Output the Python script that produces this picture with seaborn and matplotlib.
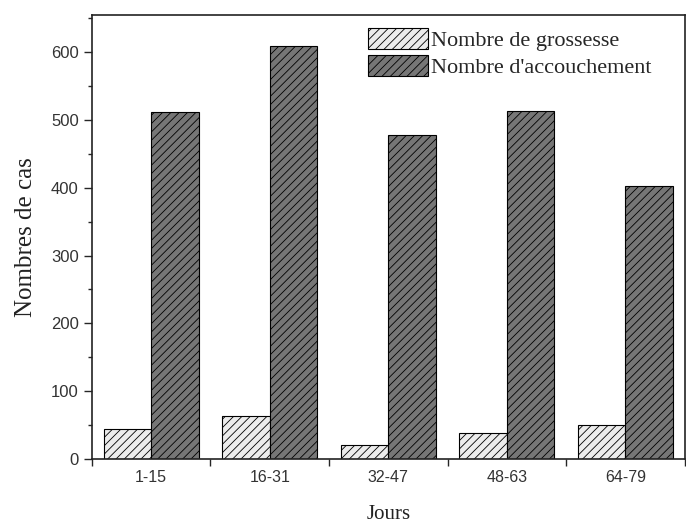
import pandas as pd
import matplotlib
matplotlib.use("Agg")
from matplotlib import pyplot as plt
from matplotlib.patches import Patch
from matplotlib.ticker import MultipleLocator, FixedLocator
import seaborn as sns

jours = ["1-15", "16-31", "32-47", "48-63", "64-79"]
grossesse = [44, 63, 21, 38, 50]
accouchement = [512, 609, 478, 513, 403]
series = ["Nombre de grossesse", "Nombre d'accouchement"]

df = pd.DataFrame({
    "Jours": jours * 2,
    "cas": grossesse + accouchement,
    "serie": [series[0]] * len(jours) + [series[1]] * len(jours),
})

sns.set_style("ticks")
plt.rcParams["hatch.linewidth"] = 0.6
colors = ["#ececec", "#767676"]

fig = plt.figure(figsize=(6.86, 5.27), dpi=100)
ax = fig.add_axes([0.134, 0.129, 0.864, 0.843])
sns.barplot(data=df, x="Jours", y="cas", hue="serie", palette=colors,
            width=0.8, edgecolor="black", linewidth=0.8, ax=ax, legend=False)
for cont in ax.containers:
    for bar in cont:
        bar.set_hatch("////")

ax.set_xlim(-0.5, 4.5)
ax.set_ylim(0, 655)
ax.yaxis.set_major_locator(MultipleLocator(100))
ax.yaxis.set_minor_locator(MultipleLocator(50))
ax.xaxis.set_minor_locator(FixedLocator([-0.5, 0.5, 1.5, 2.5, 3.5, 4.5]))
ax.tick_params(axis="x", which="major", length=0, labelsize=11.5, pad=8)
ax.tick_params(axis="x", which="minor", length=5, width=1)
ax.tick_params(axis="y", which="major", length=6, width=1, labelsize=12)
ax.tick_params(axis="y", which="minor", length=3, width=1)
for lab in ax.get_xticklabels() + ax.get_yticklabels():
    lab.set_family("Liberation Sans")
    lab.set_color("#333333")
for s in ax.spines.values():
    s.set_linewidth(1.2)
    s.set_color("#222222")

ax.set_xlabel("Jours", family="Liberation Serif", fontsize=15, labelpad=14, color="#222222")
ax.set_ylabel("Nombres de cas", family="Liberation Serif", fontsize=18, labelpad=10, color="#222222")

handles = [Patch(facecolor=c, edgecolor="black", hatch="////", linewidth=0.8) for c in colors]
ax.legend(handles, series, loc="upper left", frameon=False,
          prop={"family": "Liberation Serif", "size": 16},
          handlelength=2.7, handleheight=1.1, handletextpad=0.15,
          labelspacing=0.15, borderaxespad=0.0, bbox_to_anchor=(0.45, 0.99))

fig.savefig("out.png", dpi=100)
